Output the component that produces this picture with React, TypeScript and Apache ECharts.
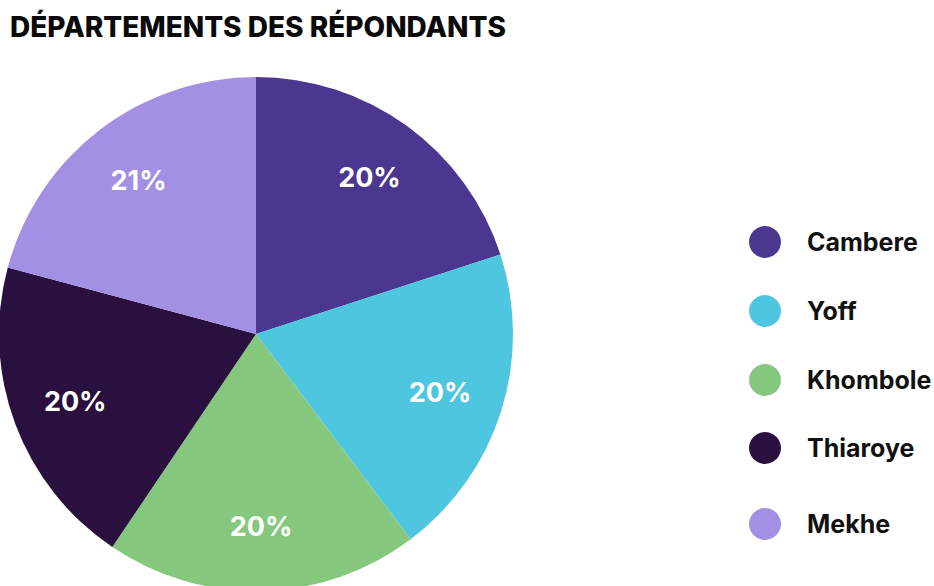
import React, { useEffect, useRef } from "react";
import * as echarts from "echarts";

const titleText = "DÉPARTEMENTS DES RÉPONDANTS";
const categories = ["Cambere", "Yoff", "Khombole", "Thiaroye", "Mekhe"];
const values = [72, 71, 71, 71, 75];
const colors = ["#4B3790", "#4FC6DF", "#85C87D", "#2A103E", "#A390E4"];
const legendTops = [226, 295, 364, 432, 508];

const FONT = "Inter";

export default function App() {
  const ref = useRef<HTMLDivElement>(null);
  useEffect(() => {
    if (!ref.current) return;
    const chart = echarts.init(ref.current, undefined, { renderer: "svg" });
    const data = categories.map((name, i) => ({
      name,
      value: values[i],
      itemStyle: { color: colors[i] },
    }));
    const legends = categories.map((name, i) => ({
      data: [name],
      left: 749,
      top: legendTops[i],
      padding: 0,
      orient: "vertical",
      icon: "circle",
      itemWidth: 32,
      itemHeight: 32,
      selectedMode: false,
      textStyle: {
        fontFamily: FONT,
        fontWeight: 700,
        fontSize: 25,
        color: "#111111",
        padding: [0, 0, 0, 21],
      },
    }));
    chart.setOption({
      animation: false,
      backgroundColor: "#ffffff",
      title: {
        text: titleText,
        left: 10,
        top: 13,
        padding: 0,
        textStyle: {
          fontFamily: FONT,
          fontWeight: 800,
          fontSize: 28,
          color: "#0a0a0a",
        },
      },
      legend: legends,
      series: [
        {
          type: "pie",
          center: [256, 334],
          radius: [0, 257],
          startAngle: 90,
          clockwise: true,
          silent: true,
          label: { show: false },
          labelLine: { show: false },
          data,
        },
        {
          type: "pie",
          center: [256, 334],
          radius: [150, 230],
          startAngle: 90,
          clockwise: true,
          silent: true,
          itemStyle: { color: "rgba(0,0,0,0)" },
          label: {
            show: true,
            position: "inside",
            color: "#ffffff",
            fontFamily: FONT,
            fontWeight: 700,
            fontSize: 27,
            formatter: (p: any) => Math.round(p.percent) + "%",
          },
          labelLine: { show: false },
          data: categories.map((name, i) => ({
            name,
            value: values[i],
            itemStyle: { color: "rgba(0,0,0,0)" },
          })),
        },
      ],
    });
    return () => chart.dispose();
  }, []);
  return (
    <div
      ref={ref}
      style={{ position: "fixed", left: 0, top: 0, width: 934, height: 586 }}
    />
  );
}
